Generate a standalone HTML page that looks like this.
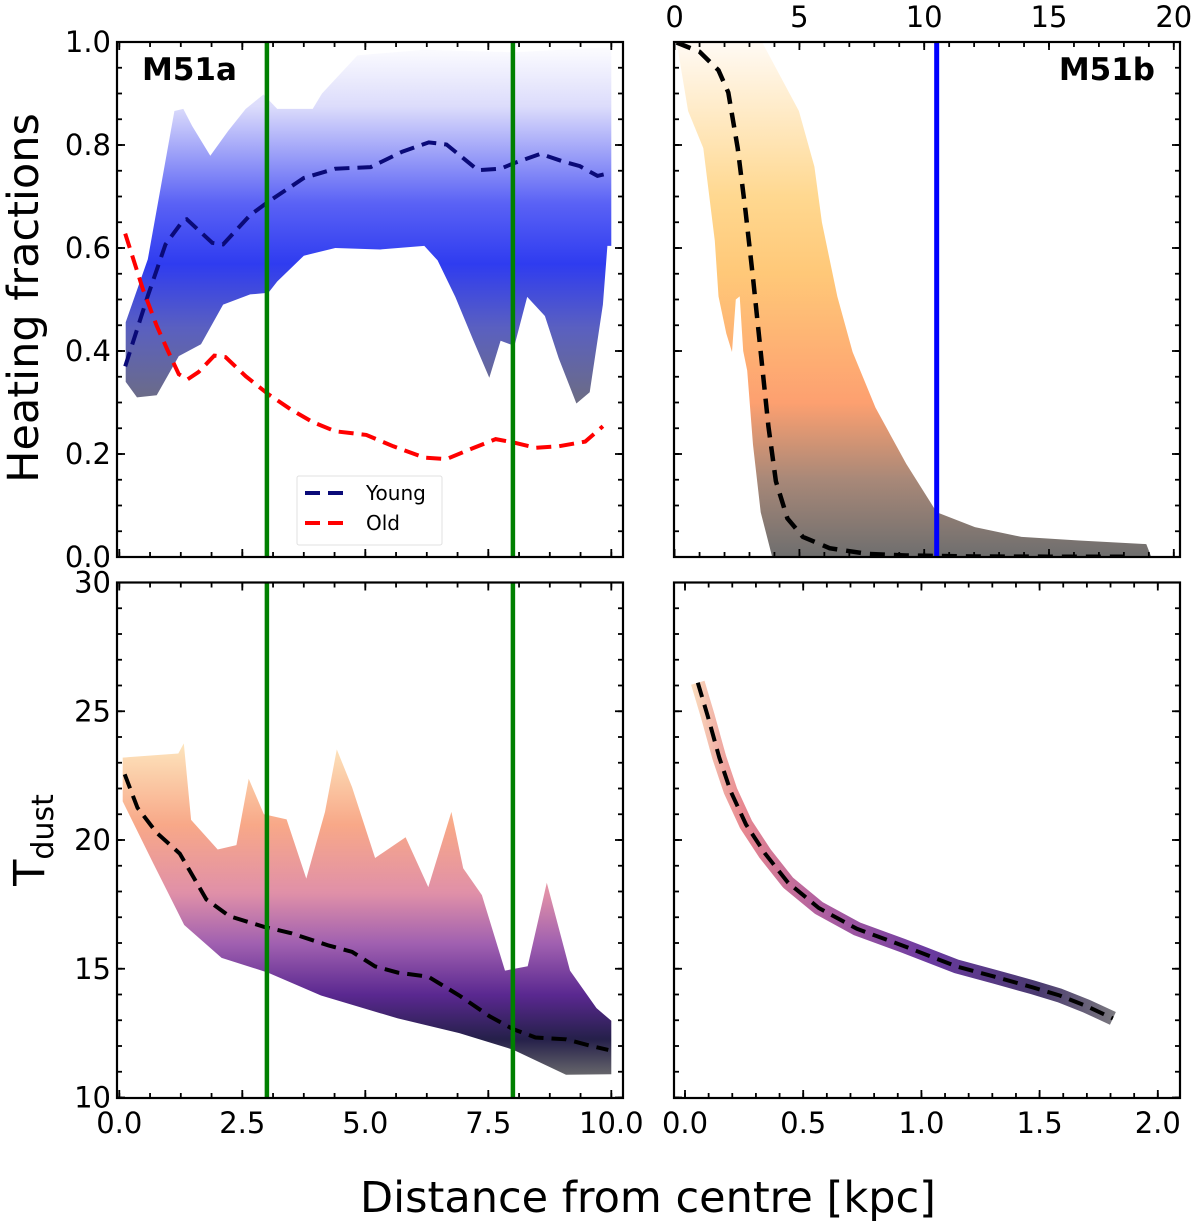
<!DOCTYPE html>
<html><head><meta charset="utf-8"><style>
html,body{margin:0;padding:0;background:#fff;}
svg{display:block;font-family:"DejaVu Sans","Liberation Sans",sans-serif;}
</style></head><body>
<svg id="fig" width="1200" height="1224" viewBox="0 0 1200 1224" xmlns="http://www.w3.org/2000/svg">
<defs>
<linearGradient id="gBlue" gradientUnits="userSpaceOnUse" x1="0" y1="42" x2="0" y2="400">
<stop offset="0" stop-color="#ffffff"/><stop offset="0.18" stop-color="#dcdcfb"/><stop offset="0.45" stop-color="#5a62f5"/><stop offset="0.62" stop-color="#2f3cf0"/><stop offset="0.8" stop-color="#5a60c0"/><stop offset="1" stop-color="#6c6c86"/>
</linearGradient>
<linearGradient id="gOrange" gradientUnits="userSpaceOnUse" x1="0" y1="42" x2="0" y2="557">
<stop offset="0" stop-color="#fffaf4"/><stop offset="0.3" stop-color="#ffd890"/><stop offset="0.45" stop-color="#ffc878"/><stop offset="0.7" stop-color="#fda070"/><stop offset="0.85" stop-color="#a88878"/><stop offset="1" stop-color="#6e6e6e"/>
</linearGradient>
<linearGradient id="gMagma" gradientUnits="userSpaceOnUse" x1="0" y1="740" x2="0" y2="1080">
<stop offset="0" stop-color="#fde8c0"/><stop offset="0.25" stop-color="#f8a888"/><stop offset="0.45" stop-color="#e090a8"/><stop offset="0.6" stop-color="#a060b0"/><stop offset="0.75" stop-color="#5a2890"/><stop offset="0.88" stop-color="#25204a"/><stop offset="1" stop-color="#707070"/>
</linearGradient>
<linearGradient id="gBand" gradientUnits="userSpaceOnUse" x1="690" y1="0" x2="1125" y2="0">
<stop offset="0" stop-color="#fbe0c0"/><stop offset="0.12" stop-color="#e88890"/><stop offset="0.3" stop-color="#b060a0"/><stop offset="0.55" stop-color="#6a3aa0"/><stop offset="0.8" stop-color="#4a3a70"/><stop offset="1" stop-color="#808080"/>
</linearGradient>
</defs>
<g id="layer"></g>
</svg>
<script>
// ---- M51a heating fractions (x in kpc) ----
const tlYoungX = [0.12,0.58,0.94,1.30,1.37,1.89,2.11,2.66,3.03,3.75,4.39,5.11,5.75,6.29,6.65,7.29,7.75,8.03,8.56,8.99,9.36,9.72,9.95];
const tlYoungY = [0.37,0.507,0.607,0.654,0.656,0.61,0.607,0.664,0.69,0.736,0.754,0.757,0.787,0.805,0.801,0.751,0.754,0.765,0.783,0.769,0.759,0.74,0.745];
const tlOldX = [0.12,0.48,0.76,0.98,1.21,1.39,1.61,1.93,2.16,2.57,3.03,3.48,3.93,4.39,5.02,5.57,6.2,6.65,7.1,7.65,8.03,8.47,8.93,9.47,9.83];
const tlOldY = [0.628,0.52,0.449,0.402,0.355,0.345,0.359,0.391,0.388,0.351,0.316,0.287,0.262,0.244,0.237,0.215,0.193,0.19,0.208,0.229,0.222,0.212,0.215,0.224,0.254];
const tlUpX = [0.13,0.58,0.85,1.12,1.30,1.48,1.85,2.21,2.57,2.93,3.21,3.93,4.12,4.84,6.2,8.03,10.0];
const tlUpY = [0.456,0.578,0.722,0.866,0.87,0.837,0.779,0.827,0.87,0.898,0.87,0.87,0.9,0.974,0.985,0.98,0.99];
const tlLoX = [0.13,0.36,0.76,1.21,1.66,2.11,2.66,3.03,3.21,3.75,4.39,5.3,6.2,6.47,6.83,7.2,7.52,7.75,8.03,8.29,8.65,8.93,9.29,9.56,9.83,9.92,10.0];
const tlLoY = [0.34,0.31,0.314,0.39,0.413,0.49,0.51,0.513,0.535,0.585,0.6,0.597,0.604,0.576,0.505,0.42,0.348,0.42,0.41,0.505,0.468,0.386,0.298,0.32,0.49,0.604,0.604];
// ---- M51b heating fraction (x in kpc, top axis) ----
const trCurveX = [0.08,1.0,1.76,2.15,2.53,2.84,3.14,3.45,3.76,4.06,4.52,5.14,6.21,7.74,9.27,12,15,18];
const trCurveY = [0.999,0.981,0.945,0.902,0.794,0.672,0.542,0.398,0.254,0.147,0.075,0.039,0.017,0.006,0.003,0.001,0.0005,0.0003];
const trRightX = [0.08,3.5,4.98,5.6,5.9,6.52,7.13,8.05,9.28,10.5,12.03,13.9,16.2,18.9,19.1];
const trRightY = [1.0,1.0,0.866,0.758,0.65,0.506,0.398,0.29,0.181,0.087,0.058,0.039,0.032,0.025,0.0];
const trLeftX = [0.08,0.54,1.15,1.61,1.76,2.07,2.3,2.45,2.61,2.75,2.91,3.14,3.45,3.91];
const trLeftY = [1.0,0.866,0.794,0.614,0.506,0.434,0.398,0.5,0.506,0.4,0.362,0.218,0.087,0.0];
const blueLineKpc = 10.5;
// ---- M51a dust temperature ----
const blCurveX = [0.11,0.37,0.76,1.23,1.77,2.24,2.94,3.48,4.26,4.73,5.2,5.66,6.28,6.91,7.53,8.0,8.46,9.08,9.55,9.94];
const blCurveY = [22.55,21.25,20.28,19.47,17.69,17.04,16.63,16.39,15.9,15.66,15.09,14.85,14.69,13.96,13.15,12.66,12.33,12.26,12.02,11.85];
const blUpX = [0.07,1.2,1.31,1.46,2.0,2.38,2.63,2.94,3.4,3.8,4.18,4.42,4.73,5.2,5.82,6.28,6.75,6.99,7.37,7.84,8.3,8.69,9.16,9.7,10.0];
const blUpY = [23.2,23.36,23.75,20.78,19.63,19.8,22.38,21.0,20.8,18.5,21.09,23.52,22.06,19.3,20.11,18.17,21.09,18.9,17.86,14.93,15.1,18.34,14.93,13.47,12.98];
const blLoX = [0.07,0.69,1.32,2.08,3.02,4.1,5.66,6.91,8.0,9.08,10.0];
const blLoY = [21.5,19.1,16.7,15.42,14.85,13.96,13.07,12.5,11.86,10.88,10.9];
// ---- M51b dust temperature ----
const brCurveX = [0.054,0.096,0.145,0.193,0.258,0.339,0.436,0.566,0.727,0.921,1.148,1.31,1.47,1.585,1.698,1.81];
const brCurveY = [26.11,24.82,23.2,21.9,20.6,19.47,18.34,17.36,16.55,15.9,15.09,14.69,14.28,13.96,13.55,13.07];
const greenLines = [3.0, 8.0];
// ticks
const tlXTicks = [0,2.5,5,7.5,10];
const tlXLabels = ["0.0","2.5","5.0","7.5","10.0"];
const fracTicks = [0,0.2,0.4,0.6,0.8,1.0];
const fracLabels = ["0.0","0.2","0.4","0.6","0.8","1.0"];
const topTicks = [0,5,10,15,20];
const topLabels = ["0","5","10","15","20"];
const tTicks = [10,15,20,25,30];
const tLabels = ["10","15","20","25","30"];
const brXTicks = [0,0.5,1.0,1.5,2.0];
const brXLabels = ["0.0","0.5","1.0","1.5","2.0"];

const NS = "http://www.w3.org/2000/svg";
const layer = document.getElementById('layer');
function mk(tag, a, parent){ const e=document.createElementNS(NS,tag); for(const k in a) e.setAttribute(k,a[k]); (parent||layer).appendChild(e); return e; }
const X1 = v => 119.3 + 49.2*v;
const XT = k => 674.6 + 24.96*k;
const X2 = v => 685 + 236.4*v;
const YF = f => 557 - 515*f;
const YT = t => 582.5 + (30 - t)*25.75;
const P = {tl:[117,42,623,557], tr:[674,42,1180,557], bl:[117,582.5,623,1098], br:[674,582.5,1180,1098]};
function pts(xs, ys, fx, fy){ return xs.map((x,i)=>fx(x).toFixed(1)+','+fy(ys[i]).toFixed(1)).join(' '); }
function areaPts(ux,uy,lx,ly,fx,fy){ const a=ux.map((x,i)=>fx(x).toFixed(1)+','+fy(uy[i]).toFixed(1)); const b=[]; for(let i=lx.length-1;i>=0;i--) b.push(fx(lx[i]).toFixed(1)+','+fy(ly[i]).toFixed(1)); return a.concat(b).join(' '); }

const defs = document.querySelector('defs');
for (const k in P){ const c=mk('clipPath',{id:'clip-'+k},defs); const r=P[k]; mk('rect',{x:r[0],y:r[1],width:r[2]-r[0],height:r[3]-r[1]},c); }

// ---- TL ----
const gTL = mk('g',{'clip-path':'url(#clip-tl)'});


const dTL = mk('polygon',{points:areaPts(tlUpX,tlUpY,tlLoX,tlLoY,X1,YF),fill:'url(#gBlue)'},gTL);


const yl = mk('polyline',{points:pts(tlYoungX,tlYoungY,X1,YF),fill:'none',stroke:'#0a0a78','stroke-width':4,'stroke-dasharray':'15,8'},gTL);


const ol = mk('polyline',{points:pts(tlOldX,tlOldY,X1,YF),fill:'none',stroke:'#ff0000','stroke-width':4,'stroke-dasharray':'15,8'},gTL);



// ---- TR ----
const gTR = mk('g',{'clip-path':'url(#clip-tr)'});


const dTR = mk('polygon',{points:areaPts(trRightX,trRightY,trLeftX,trLeftY,XT,YF),fill:'url(#gOrange)'},gTR);


const bl = mk('line',{x1:XT(blueLineKpc),x2:XT(blueLineKpc),y1:42,y2:557,stroke:'#0000ff','stroke-width':5},gTR);


const kc = mk('polyline',{points:pts(trCurveX,trCurveY,XT,YF),fill:'none',stroke:'#000','stroke-width':4.5,'stroke-dasharray':'15,9'},gTR);



// ---- BL ----
const gBL = mk('g',{'clip-path':'url(#clip-bl)'});


const dBL = mk('polygon',{points:areaPts(blUpX,blUpY,blLoX,blLoY,X1,YT),fill:'url(#gMagma)'},gBL);


const bc = mk('polyline',{points:pts(blCurveX,blCurveY,X1,YT),fill:'none',stroke:'#000','stroke-width':4,'stroke-dasharray':'15,8'},gBL);



// ---- BR ----
const gBR = mk('g',{'clip-path':'url(#clip-br)'});


const band = mk('polyline',{points:pts(brCurveX,brCurveY,X2,YT),fill:'none',stroke:'url(#gBand)','stroke-width':14,'stroke-linejoin':'round'},gBR);


const brc = mk('polyline',{points:pts(brCurveX,brCurveY,X2,YT),fill:'none',stroke:'#000','stroke-width':4,'stroke-dasharray':'15,8'},gBR);



for (const v of greenLines){
  for (const k of ['tl','bl']){
    const g = mk('line',{x1:X1(v),x2:X1(v),y1:P[k][1],y2:P[k][3],stroke:'#008000','stroke-width':4.5});
    
    
  }
}

function ticksX(k, fx, from, to, step, len, side){
  const r=P[k];
  for(let v=from; v<=to+1e-9; v+=step){ const x=fx(v); if(x<r[0]-0.5||x>r[2]+0.5) continue;
    const y = side==='b'? r[3] : r[1]; const d = side==='b'? -len : len;
    const t=mk('line',{x1:x,x2:x,y1:y,y2:y+d,stroke:'#000','stroke-width':1.8});
    
    
  }
}
function ticksY(k, fy, from, to, step, len){
  const r=P[k];
  for(let v=from; v<=to+1e-9; v+=step){ const y=fy(v);
    for (const s of [0,1]){ const x = s? r[2]: r[0]; const d = s? -len: len;
      const t=mk('line',{x1:x,x2:x+d,y1:y,y2:y,stroke:'#000','stroke-width':1.8});
      
      
    }
  }
}
ticksX('tl',X1,0,10,2.5,8,'b'); ticksX('tl',X1,0,10.2,0.625,5,'b');
ticksX('tl',X1,0,10,2.5,8,'t'); ticksX('tl',X1,0,10.2,0.625,5,'t');
ticksY('tl',YF,0,1,0.2,8); ticksY('tl',YF,0,1,0.05,5);
ticksX('tr',XT,0,20,5,8,'b'); ticksX('tr',XT,0,20.2,1,5,'b');
ticksX('tr',XT,0,20,5,8,'t'); ticksX('tr',XT,0,20.2,1,5,'t');
ticksY('tr',YF,0,1,0.2,8); ticksY('tr',YF,0,1,0.05,5);
ticksX('bl',X1,0,10,2.5,8,'b'); ticksX('bl',X1,0,10.2,0.625,5,'b');
ticksX('bl',X1,0,10,2.5,8,'t'); ticksX('bl',X1,0,10.2,0.625,5,'t');
ticksY('bl',YT,10,30,5,8); ticksY('bl',YT,10,30,1,5);
ticksX('br',X2,0,2,0.5,8,'b'); ticksX('br',X2,0,2.05,0.1,5,'b');
ticksX('br',X2,0,2,0.5,8,'t'); ticksX('br',X2,0,2.05,0.1,5,'t');
ticksY('br',YT,10,30,5,8); ticksY('br',YT,10,30,1,5);

for (const k in P){ const r=P[k]; const f=mk('rect',{x:r[0],y:r[1],width:r[2]-r[0],height:r[3]-r[1],fill:'none',stroke:'#000','stroke-width':2.2});
  
   }

function label(txt,x,y,anchor,size,name){ const t=mk('text',{x:x,y:y,'text-anchor':anchor,'font-size':size,fill:'#000'}); t.textContent=txt;
  
   return t; }
tlXTicks.forEach((v,i)=>label(tlXLabels[i],X1(v),1133,'middle',29,'x-tick-label'));
brXTicks.forEach((v,i)=>label(brXLabels[i],X2(v),1133,'middle',29,'x-tick-label'));
topTicks.forEach((v,i)=>label(topLabels[i],XT(v),27,'middle',29,'top-tick-label'));
fracTicks.forEach((v,i)=>label(fracLabels[i],111,YF(v)+10,'end',29,'y-tick-label'));
tTicks.forEach((v,i)=>label(tLabels[i],111,YT(v)+10,'end',29,'y-tick-label'));

const m1=label('M51a',142,80,'start',31,'m51a-title'); m1.setAttribute('font-weight','bold');
const m2=label('M51b',1155,80,'end',31,'m51b-title'); m2.setAttribute('font-weight','bold');
label('Distance from centre [kpc]',648,1212,'middle',43,'x-axis-title');
const yt=label('Heating fractions',0,0,'middle',43,'y-axis-title-top'); yt.setAttribute('transform','translate(38,298) rotate(-90)');
const td=mk('text',{transform:'translate(44,840) rotate(-90)','text-anchor':'middle','font-size':43});


td.innerHTML='T<tspan font-size="30" dy="9">dust</tspan>';

const lg=mk('g',{});


mk('rect',{x:297,y:476,width:145,height:69,fill:'#fff',stroke:'#e0e0e0','stroke-width':1,rx:2},lg);
const e1=mk('line',{x1:305,x2:350,y1:493,y2:493,stroke:'#0a0a78','stroke-width':4,'stroke-dasharray':'15,8'},lg);


const e2=mk('line',{x1:305,x2:350,y1:523,y2:523,stroke:'#ff0000','stroke-width':4,'stroke-dasharray':'15,8'},lg);


const t1=mk('text',{x:366,y:500,'font-size':20},lg); t1.textContent='Young';


const t2=mk('text',{x:366,y:530,'font-size':20},lg); t2.textContent='Old';


</script>
</body></html>
